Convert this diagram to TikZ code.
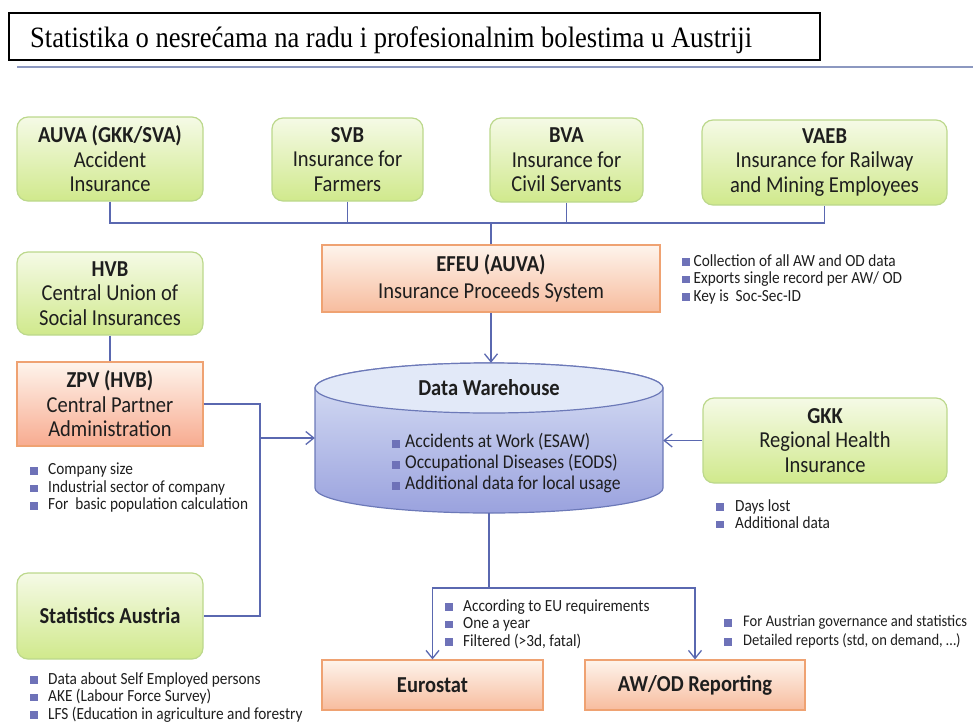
\documentclass[tikz,border=0pt]{standalone}
\usepackage{fontspec}
\setmainfont[FakeStretch=0.9]{Carlito}
\newfontfamily\titlefont[FakeStretch=0.9]{Liberation Serif}
\usetikzlibrary{arrows.meta}
\definecolor{lineblue}{HTML}{5A68B0}
\definecolor{rulec}{HTML}{8C98C0}
\definecolor{greentop}{HTML}{F5FAE6}
\definecolor{greenbot}{HTML}{D0E98C}
\definecolor{greenbd}{HTML}{BCD88C}
\definecolor{orgtop}{HTML}{FEF4EC}
\definecolor{orgbot}{HTML}{F7BC9E}
\definecolor{orgbd}{HTML}{EFA272}
\definecolor{cyltop}{HTML}{E2E9F8}
\definecolor{cylbot}{HTML}{9AA2DE}
\definecolor{cylbd}{HTML}{6C79B8}
\definecolor{bulletc}{HTML}{6E72B8}
\definecolor{txt}{HTML}{1E1E1E}
\newcommand{\bx}[1]{\makebox[#1][l]{\textcolor{bulletc}{\rule[0.3pt]{7.5pt}{7.5pt}}}}
\tikzset{
  boxtext/.style={align=center, text=txt, inner sep=0pt, font=\fontsize{22.8}{24.5}\selectfont},
  greenbox/.style={boxtext, rounded corners=11pt, draw=greenbd, line width=1.2pt,
    top color=greentop, bottom color=greenbot},
  orangebox/.style={boxtext, draw=orgbd, line width=1.2pt,
    top color=orgtop, bottom color=orgbot},
  conn/.style={draw=lineblue, line width=1.3pt},
  arr/.style={conn, -{Straight Barb[length=8pt,width=13pt]}},
  blist/.style={anchor=north west, align=left, inner sep=0pt, text=txt,
    font=\fontsize{17}{17.5}\selectfont},
}
\begin{document}
\begin{tikzpicture}[x=1pt,y=-1pt]
\useasboundingbox (0,0) rectangle (973,725);
% title
\node (titlebox) [draw=black, line width=1.8pt, minimum width=811pt, minimum height=47pt, inner sep=0pt] at (414.5,36.5) {};
\node (title) [anchor=base west, inner sep=0pt, font=\titlefont\fontsize{29.5}{32}\selectfont] at (30,48)
  {Statistika o nesrećama na radu i profesionalnim bolestima u Austriji};
\draw[rulec, line width=1.4pt] (17,67) -- (973,67);

% top row
\node (auva) [greenbox, minimum width=186pt, minimum height=84pt] at (110,159)
  {\textbf{AUVA (GKK/SVA)}\\Accident\\Insurance};
\node (svb) [greenbox, minimum width=151pt, minimum height=83pt] at (347.5,159.5)
  {\textbf{SVB}\\Insurance for\\Farmers};
\node (bva) [greenbox, minimum width=153pt, minimum height=84pt] at (566.5,160)
  {\textbf{BVA}\\Insurance for\\Civil Servants};
\node (vaeb) [greenbox, minimum width=245pt, minimum height=85pt] at (824.5,162.5)
  {\textbf{VAEB}\\Insurance for Railway\\and Mining Employees};

\node (efeu) [orangebox, minimum width=338pt, minimum height=67pt, font=\fontsize{22.8}{26.5}\selectfont] at (491,278.5)
  {\textbf{EFEU (AUVA)}\\Insurance Proceeds System};
\node (hvb) [greenbox, minimum width=186pt, minimum height=83pt] at (110,293.5)
  {\textbf{HVB}\\Central Union of\\Social Insurances};
\node (zpv) [orangebox, minimum width=186pt, minimum height=84pt, bottom color=orgbot!85!red!60!orgbot] at (110,404)
  {\textbf{ZPV (HVB)}\\Central Partner\\Administration};
\node (gkk) [greenbox, minimum width=244pt, minimum height=85pt] at (825,440.5)
  {\textbf{GKK}\\Regional Health\\Insurance};
\node (stat) [greenbox, minimum width=186pt, minimum height=86pt] at (110,616)
  {\textbf{Statistics Austria}};
\node (euro) [orangebox, minimum width=221pt, minimum height=50pt] at (432.5,685)
  {\textbf{Eurostat}};
\node (awod) [orangebox, minimum width=220pt, minimum height=50pt] at (695,685)
  {\textbf{AW/OD Reporting}};

% data warehouse cylinder
\path[draw=cylbd, line width=1.2pt, top color=cyltop!90!cylbot, bottom color=cylbot]
  (315,388) -- (315,488) arc[start angle=180, end angle=360, x radius=174pt, y radius=25pt]
  -- (663,388) arc[start angle=0, end angle=180, x radius=174pt, y radius=25pt] -- cycle;
\draw[cylbd, line width=1.2pt, fill=cyltop] (489,388) ellipse [x radius=174pt, y radius=25pt];
\node (dw) [minimum width=348pt, minimum height=150pt, inner sep=0pt] at (489,438) {};
\node (dwt) [text=txt, inner sep=0pt, font=\fontsize{22.8}{24}\selectfont\bfseries] at (489,388) {Data Warehouse};
\node (dwb) [blist, font=\fontsize{19.5}{21}\selectfont] at (392,433.5)
  {\bx{13pt}Accidents at Work (ESAW)\\\bx{13pt}Occupational Diseases (EODS)\\\bx{13pt}Additional data for local usage};

% bullet lists
\node (efeub) [blist] at (682,254)
  {\bx{11.5pt}Collection of all AW and OD data\\\bx{11.5pt}Exports single record per AW/ OD\\\bx{11.5pt}Key is~ Soc-Sec-ID};
\node (zpvb) [blist] at (30,463)
  {\bx{18pt}Company size\\\bx{18pt}Industrial sector of company\\\bx{18pt}For~ basic population calculation};
\node (gkkb) [blist] at (716,499)
  {\bx{19pt}Days lost\\\bx{19pt}Additional data};
\node (statb) [blist, font=\fontsize{17}{17.5}\selectfont] at (30,672)
  {\bx{18pt}Data about Self Employed persons\\\bx{18pt}AKE (Labour Force Survey)\\\bx{18pt}LFS (Education in agriculture and forestry};
\node (eurob) [blist] at (445,599)
  {\bx{18pt}According to EU requirements\\\bx{18pt}One a year\\\bx{18pt}Filtered (>3d, fatal)};
\node (awodb) [blist, font=\fontsize{16.2}{19}\selectfont] at (724,615.5)
  {\bx{19pt}For Austrian governance and statistics\\\bx{19pt}Detailed reports (std, on demand, …)};

% connectors
\coordinate (bus) at (0,223);
\coordinate (j) at (260,0);
\coordinate (split) at (0,588);
\draw[conn] (auva.south) |- (bus -| vaeb.south) -- (vaeb.south);
\draw[conn] (svb.south) -- (svb.south |- bus);
\draw[conn] (bva.south) -- (bva.south |- bus);
\draw[conn] (efeu.north) -- (efeu.north |- bus);
\draw[arr] (efeu.south) -- (efeu.south |- dw.north);
\draw[conn] (hvb.south) -- (zpv.north);
\draw[conn] (zpv.east) -| (stat.east -| j) -- (stat.east);
\draw[arr] (j |- dw.west) -- (dw.west);
\draw[arr] (gkk.west) -- (gkk.west -| dw.east);
\draw[conn] (dw.south) -- (dw.south |- split);
\draw[arr] (dw.south |- split) -| (euro.north);
\draw[arr] (dw.south |- split) -| (awod.north);
\end{tikzpicture}
\end{document}
